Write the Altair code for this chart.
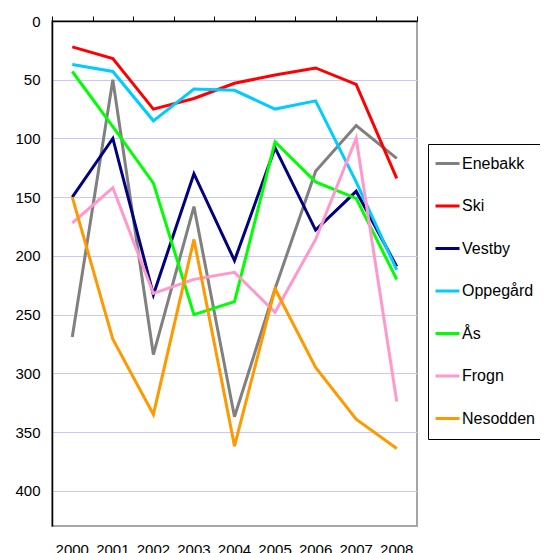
import altair as alt
import pandas as pd

years = ["2000", "2001", "2002", "2003", "2004", "2005", "2006", "2007", "2008"]
series = ["Enebakk", "Ski", "Vestby", "Oppegård", "Ås", "Frogn", "Nesodden"]
colors = ["#808080", "#ff0000", "#000080", "#00ccff", "#00ff00", "#ff99cc", "#ff9900"]

enebakk = [269, 50, 284, 158, 337, 228, 128, 89, 117]
ski = [22, 32, 75, 66, 53, 46, 40, 54, 134]
vestby = [150, 100, 233, 130, 204, 108, 178, 145, 209]
oppegard = [37, 43, 85, 58, 59, 75, 68, 137, 212]
aas = [43, 90, 138, 250, 239, 103, 137, 151, 220]
frogn = [172, 142, 232, 220, 214, 248, 186, 100, 324]
nesodden = [150, 271, 335, 186, 362, 228, 295, 339, 364]

y_ticks = [0, 50, 100, 150, 200, 250, 300, 350, 400]

values = [enebakk, ski, vestby, oppegard, aas, frogn, nesodden]
rows = []
for name, vals in zip(series, values):
    for yr, v in zip(years, vals):
        rows.append({"year": yr, "kommune": name, "value": v})
df = pd.DataFrame(rows)

FONT = "Liberation Sans"

xscale = alt.Scale(type="band", paddingInner=0, paddingOuter=0)
yscale = alt.Scale(domain=[0, 430], reverse=True, nice=False, zero=False)

yaxis = alt.Axis(values=y_ticks, title=None, ticks=False, labelPadding=12,
                 labelFontSize=15, labelFont=FONT, labelColor="black",
                 domainColor="black", domainWidth=1.5,
                 grid=True, gridColor="#c8c8ff", gridWidth=1)

lines = alt.Chart(df).mark_line(strokeWidth=3).encode(
    x=alt.X("year:N", sort=years, scale=xscale,
            axis=alt.Axis(orient="bottom", title=None, ticks=False, domain=False,
                          labelPadding=16, labelFontSize=15, labelFont=FONT,
                          labelColor="black", labelAngle=0, grid=False)),
    y=alt.Y("value:Q", scale=yscale, axis=yaxis),
    color=alt.Color("kommune:N", sort=series,
                    scale=alt.Scale(domain=series, range=colors),
                    legend=alt.Legend(title=" ", titleOrient="bottom", titleFontSize=2,
                                      titlePadding=4,
                                      orient="none", legendX=376, legendY=123,
                                      strokeColor="black", fillColor="white",
                                      padding=6, symbolType="stroke",
                                      symbolStrokeWidth=3, symbolSize=576,
                                      labelFontSize=16, labelFont=FONT, labelColor="black",
                                      rowPadding=20.5, labelOffset=1)),
)

top_axis = alt.Chart(df).mark_line(opacity=0).encode(
    x=alt.X("year:N", sort=years, scale=xscale,
            axis=alt.Axis(orient="top", title=None, labels=False, tickBand="extent",
                          tickSize=5, tickColor="black", domainColor="black",
                          domainWidth=1.5, grid=False)),
    y=alt.Y("value:Q", scale=yscale, axis=yaxis),
)

chart = alt.layer(lines, top_axis).resolve_axis(x="independent").properties(
    width=365,
    height=505,
    autosize=alt.AutoSizeParams(type="none"),
    padding={"left": 44, "top": 13, "right": 123, "bottom": 40},
).configure_view(stroke="#a6a6a6", strokeWidth=2)

chart.save("out.html", embed_options={"renderer": "svg", "actions": False})
